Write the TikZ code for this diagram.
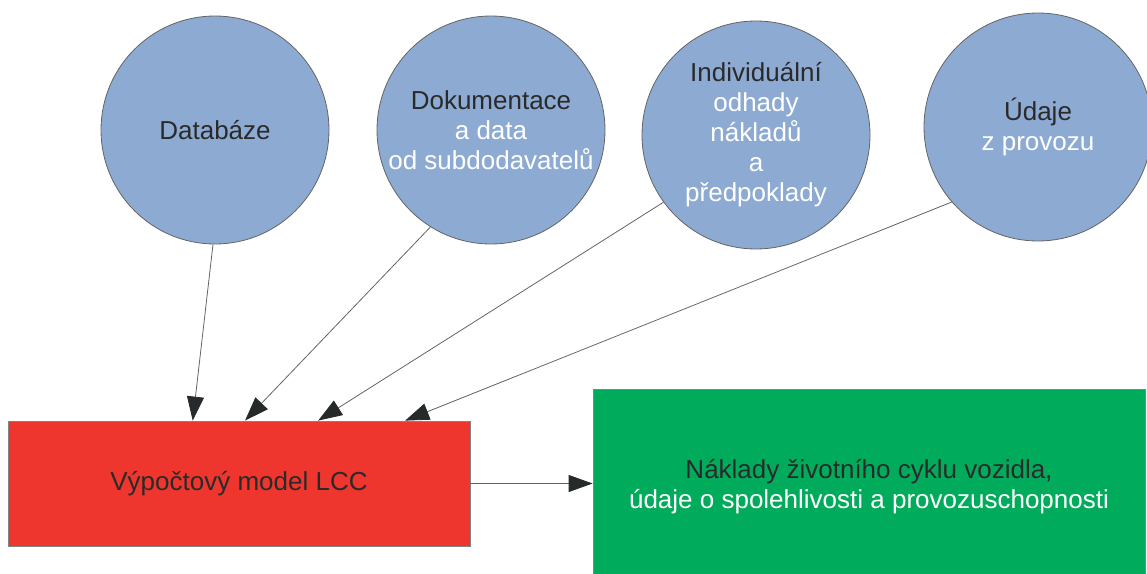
\documentclass[tikz,border=0pt]{standalone}
\usepackage{fontspec}
\setmainfont{Liberation Sans}
\usetikzlibrary{calc}
\usetikzlibrary{arrows.meta}

\definecolor{ballblue}{RGB}{141,171,210}
\definecolor{lccred}{RGB}{238,54,46}
\definecolor{outgreen}{RGB}{0,172,92}
\definecolor{edgegray}{RGB}{100,100,100}
\definecolor{txtdark}{RGB}{42,42,42}
\definecolor{tipdark}{RGB}{38,42,42}

\begin{document}
\begin{tikzpicture}[x=1pt,y=-1pt,
	ball/.style={circle,draw=edgegray,line width=0.8pt,fill=ballblue,minimum size=228pt,inner sep=0pt,
		align=center,text=white,font=\fontsize{26}{30}\selectfont},
	box/.style={rectangle,draw=edgegray!80,line width=0.8pt,inner sep=0pt,align=center,
		font=\fontsize{26}{30}\selectfont},
	feed/.style={draw=edgegray,line width=0.8pt,-{Triangle[length=24pt,width=17pt,color=tipdark]}}]
\useasboundingbox (0,0) rectangle (1147,573);
\clip (0,0) rectangle (1147,573);
%\fill[white] (0,0) rectangle (1147,573);
\coordinate (DB) at (215,130);
\coordinate (DK) at (491,130);
\coordinate (IN) at (756,135);
\coordinate (UD) at (1038,127);
\node[ball] (db) at (DB) {\textcolor{txtdark}{Databáze}};
\node[ball] (dk) at (DK) {\textcolor{txtdark}{Dokumentace}\\a data\\od subdodavatelů};
\node[ball] (in) at (IN) {\textcolor{txtdark}{Individuální}\\odhady\\nákladů\\a\\předpoklady};
\node[ball] (ud) at (UD) {\textcolor{txtdark}{Údaje}\\z provozu};
% model a vystup
\node[box,fill=lccred,minimum width=462pt,minimum height=125pt,text=txtdark] (lcc) at (239,483.5) {Výpočtový model LCC};
\node[box,fill=outgreen,minimum width=552pt,minimum height=196pt,text=white] (out) at (869,487)
	{\textcolor{txtdark}{Náklady životního cyklu vozidla,}\\údaje o spolehlivosti a provozuschopnosti};
% vstupy do modelu
\coordinate (T1) at ($(lcc.north west)!0.400!(lcc.north east)$);
\coordinate (T2) at ($(lcc.north west)!0.513!(lcc.north east)$);
\coordinate (T3) at ($(lcc.north west)!0.671!(lcc.north east)$);
\coordinate (T4) at ($(lcc.north west)!0.859!(lcc.north east)$);
\draw[feed] (db.-91.5) -- (T1);
\draw[feed] (dk.-122.7) -- (T2);
\draw[feed] (in.-144.3) -- (T3);
\draw[feed] (ud.-139.6) -- (T4);
\draw[feed] (lcc.east) -- (lcc.east -| out.west);
\end{tikzpicture}
\end{document}
